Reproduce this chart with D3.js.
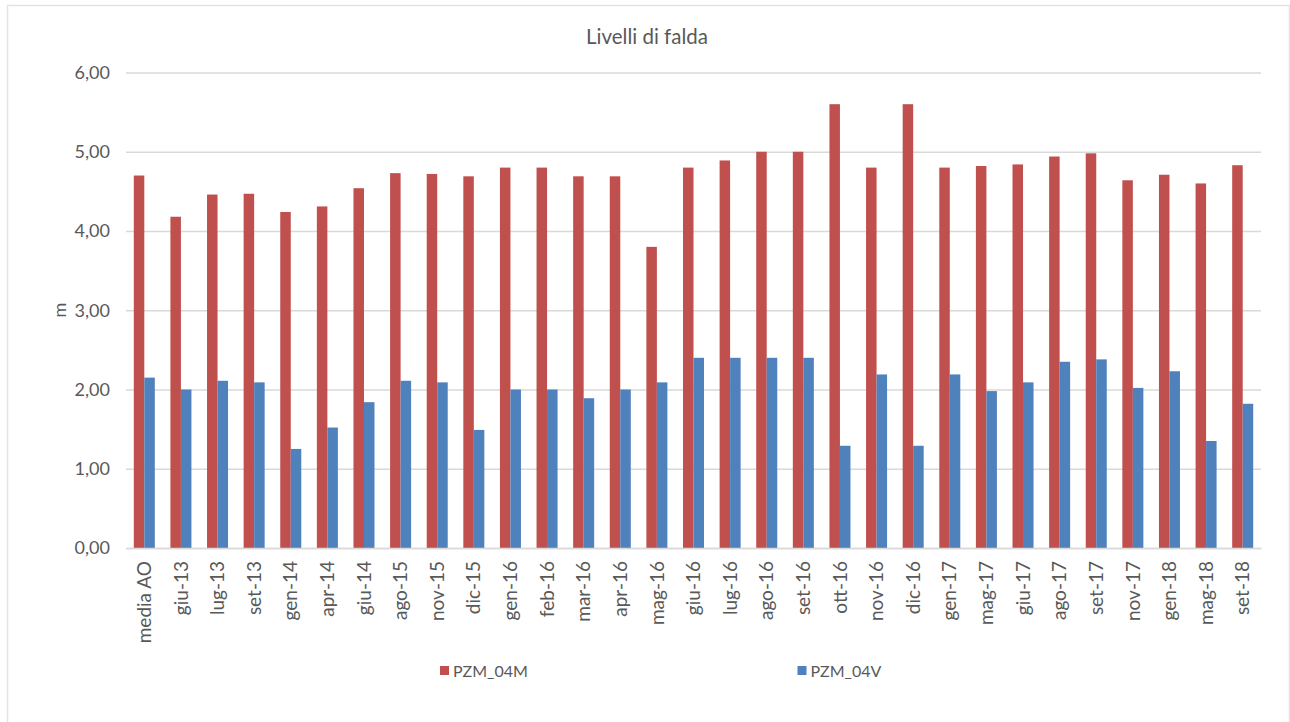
<!DOCTYPE html>
<html><head><meta charset="utf-8">
<script src="https://cdn.jsdelivr.net/npm/d3@7"></script>
<style>body{margin:0;background:#fff}svg{display:block}text{font-family:Lato,"Open Sans",sans-serif;fill:#595959}</style>
</head><body><svg id="c" width="1290" height="722"></svg>
<script>
const categories = ["media AO","giu-13","lug-13","set-13","gen-14","apr-14","giu-14","ago-15","nov-15","dic-15","gen-16","feb-16","mar-16","apr-16","mag-16","giu-16","lug-16","ago-16","set-16","ott-16","nov-16","dic-16","gen-17","mag-17","giu-17","ago-17","set-17","nov-17","gen-18","mag-18","set-18"];
const pzm04M = [4.70,4.18,4.46,4.47,4.24,4.31,4.54,4.73,4.72,4.69,4.80,4.80,4.69,4.69,3.80,4.80,4.89,5.00,5.00,5.60,4.80,5.60,4.80,4.82,4.84,4.94,4.98,4.64,4.71,4.60,4.83];
const pzm04V = [2.15,2.00,2.11,2.09,1.25,1.52,1.84,2.11,2.09,1.49,2.00,2.00,1.89,2.00,2.09,2.40,2.40,2.40,2.40,1.29,2.19,1.29,2.19,1.98,2.09,2.35,2.38,2.02,2.23,1.35,1.82];
const yTicks = [0,1,2,3,4,5,6];
const seriesNames = ["PZM_04M","PZM_04V"];
const colors = ["#C0504D","#4F81BD"];

const svg = d3.select("#c");
const L=126, R=1261, T=72.5, B=548;
// chart border
svg.append("rect").attr("x",7.5).attr("y",5.5).attr("width",1282).attr("height",730).attr("fill","none").attr("stroke","#e3e3e3").attr("stroke-width",1.5);

const x = d3.scaleBand().domain(categories).range([L,R]).paddingInner(0.426).paddingOuter(0.213);
const x1 = d3.scaleBand().domain(seriesNames).range([0,x.bandwidth()]);
const y = d3.scaleLinear().domain([0,6]).range([B,T]);
const fmt = v => d3.format(".2f")(v).replace(".",",");

// grid
const yAxis = d3.axisLeft(y).tickValues(yTicks).tickSize(-(R-L)).tickFormat(fmt).tickPadding(16);
const gy = svg.append("g").attr("transform",`translate(${L},0)`).call(yAxis);
gy.select(".domain").remove();
gy.selectAll(".tick line").attr("stroke","#d9d9d9").attr("stroke-width",1.3);
gy.selectAll(".tick text").attr("font-size",18).attr("fill","#595959").style("font-family","Lato,'Open Sans',sans-serif");

// bars
const data = categories.map((c,i)=>({c, vals:[pzm04M[i],pzm04V[i]]}));
const g = svg.append("g");
g.selectAll("g").data(data).join("g").attr("transform",d=>`translate(${x(d.c)},0)`)
 .selectAll("rect").data(d=>d.vals.map((v,j)=>({v,s:seriesNames[j],j})))
 .join("rect").attr("x",d=>x1(d.s)).attr("width",x1.bandwidth()).attr("y",d=>y(d.v)).attr("height",d=>y(0)-y(d.v)).attr("fill",d=>colors[d.j]);

// x axis
const xAxis = d3.axisBottom(x).tickSize(0).tickPadding(0);
const gx = svg.append("g").attr("transform",`translate(0,${B})`).call(xAxis);
gx.select(".domain").attr("stroke","#d9d9d9").attr("stroke-width",1.3);
gx.selectAll(".tick text").attr("font-size",19).attr("fill","#595959").style("font-family","Lato,'Open Sans',sans-serif")
  .attr("text-anchor","end").attr("dy","0.35em").attr("transform","translate(0,13) rotate(-90)").attr("x",0).attr("y",0);

// title
svg.append("text").attr("x",647).attr("y",44).attr("text-anchor","middle").attr("font-size",20.5).text("Livelli di falda");
// y title
svg.append("text").attr("transform","translate(66,310) rotate(-90)").attr("text-anchor","middle").attr("font-size",18).text("m");

// legend
const legX=[440,797.5];
seriesNames.forEach((n,i)=>{
  svg.append("rect").attr("x",legX[i]).attr("y",666).attr("width",9).attr("height",9).attr("fill",colors[i]);
  svg.append("text").attr("x",legX[i]+13).attr("y",676.5).attr("font-size",16).text(n);
});
</script></body></html>
